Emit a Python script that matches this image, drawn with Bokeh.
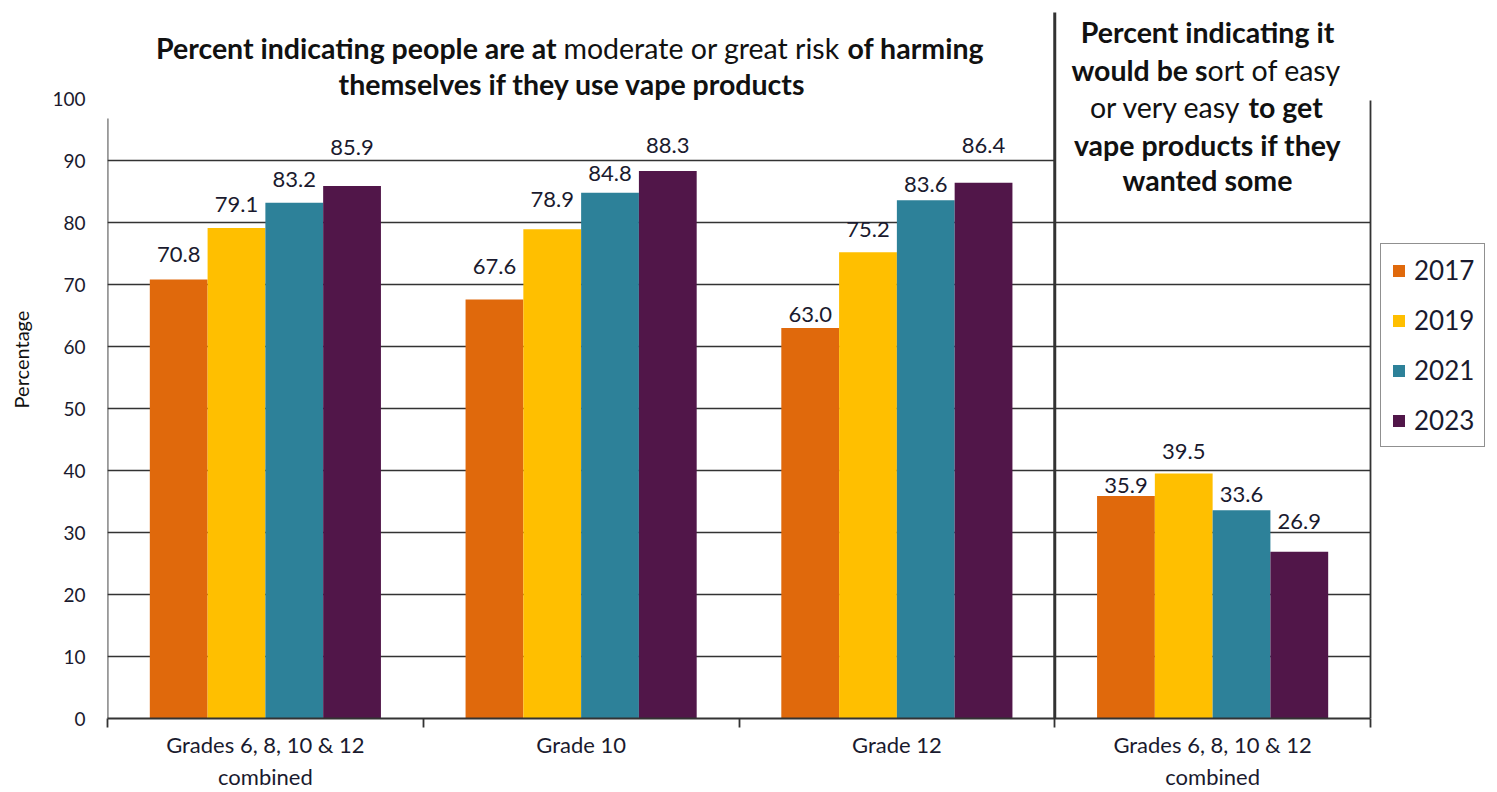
from bokeh.plotting import figure
from bokeh.models import (ColumnDataSource, FixedTicker, Label, Legend, LegendItem, Range1d)
from bokeh.core.properties import value
from bokeh.embed import file_html
from bokeh.resources import INLINE

# ---------------- data ----------------
categories = ["Grades 6, 8, 10 & 12\ncombined", "Grade 10", "Grade 12",
              "Grades 6, 8, 10 & 12\ncombined"]
years = ["2017", "2019", "2021", "2023"]
v2017 = [70.8, 67.6, 63.0, 35.9]
v2019 = [79.1, 78.9, 75.2, 39.5]
v2021 = [83.2, 84.8, 83.6, 33.6]
v2023 = [85.9, 88.3, 86.4, 26.9]
y_ticks = [0, 10, 20, 30, 40, 50, 60, 70, 80, 90, 100]

# ---------------- style ----------------
colors = ["#E0690C", "#FFBF00", "#2D8199", "#511649"]
label_lift = [[19, 27, 7, 4], [18, 24, 17, 16], [17, 13, 10, 10], [32, 20, 31, 24]]
BASELINE_FIX = 6
FONT = "Lato"
INK = "#1a1a2e"
LINE = "#333333"

W, H = 1497, 792
LEFT, BOTTOM = 107, 718
PX_X, PX_Y = 315.75, 6.2
x_end = (W - LEFT) / PX_X
y_end = BOTTOM / PX_Y


def px2x(px):
    return (px - LEFT) / PX_X


def px2y(py):
    return (BOTTOM - py) / PX_Y


p = figure(width=W, height=H, x_range=Range1d(0, x_end), y_range=Range1d(0, y_end),
           output_backend="svg", toolbar_location=None,
           min_border_left=LEFT, min_border_right=0, min_border_top=0,
           min_border_bottom=H - BOTTOM)
p.outline_line_color = None
p.grid.visible = False
p.background_fill_color = "white"

# gridlines (partial, as in the original)
gx0, gx1, gy = [], [], []
for t in y_ticks[1:-1]:
    gx0.append(0); gx1.append(3); gy.append(t)
    if t <= 80:
        gx0.append(3); gx1.append(4); gy.append(t)
p.segment(x0=gx0, y0=gy, x1=gx1, y1=gy, line_color=LINE, line_width=1.6)

# bars
series = [v2017, v2019, v2021, v2023]
bw = 0.183
renderers = []
for j, vals in enumerate(series):
    xs = [i + 0.5 + (j - 1.5) * bw for i in range(len(categories))]
    src = ColumnDataSource(dict(x=xs, top=vals,
                                txt=[f"{v:.1f}" for v in vals],
                                off=[-(d + BASELINE_FIX) for d in label_lift[j]]))
    r = p.vbar(x="x", top="top", width=bw, bottom=0, source=src,
               fill_color=colors[j], line_color=None)
    renderers.append(r)
    p.text(x="x", y="top", text="txt", source=src, y_offset="off",
           text_align="center", text_baseline="alphabetic",
           text_font=value(FONT), text_font_size="22px", text_color=INK)

# frame lines
p.segment(x0=[0], y0=[0], x1=[0], y1=[px2y(118)], line_color=LINE, line_width=1.8)
p.segment(x0=[4], y0=[0], x1=[4], y1=[px2y(100)], line_color=LINE, line_width=1.8)
p.segment(x0=[3], y0=[0], x1=[3], y1=[px2y(12)], line_color=LINE, line_width=3)

# x axis
xa = p.xaxis[0]
xa.ticker = FixedTicker(ticks=[0.5, 1.5, 2.5, 3.5], minor_ticks=[0, 1, 2, 3, 4])
xa.major_label_overrides = {0.5: categories[0], 1.5: categories[1],
                            2.5: categories[2], 3.5: categories[3]}
xa.bounds = (0, 4)
xa.axis_line_color = LINE
xa.axis_line_width = 1.8
xa.major_tick_line_color = None
xa.major_tick_out = 0
xa.major_tick_in = 0
xa.minor_tick_line_color = LINE
xa.minor_tick_line_width = 1.8
xa.minor_tick_out = 9
xa.minor_tick_in = 0
xa.major_label_standoff = 3
xa.major_label_text_font = FONT
xa.major_label_text_font_size = "22px"
xa.major_label_text_color = INK

# y axis
ya = p.yaxis[0]
ya.ticker = FixedTicker(ticks=y_ticks)
ya.axis_line_color = None
ya.major_tick_line_color = None
ya.major_tick_out = 0
ya.minor_tick_line_color = None
ya.major_label_standoff = 22
ya.major_label_text_font = FONT
ya.major_label_text_font_size = "19px"
ya.major_label_text_color = INK
ya.axis_label = "Percentage"
ya.axis_label_text_font = FONT
ya.axis_label_text_font_size = "20px"
ya.axis_label_text_font_style = "normal"
ya.axis_label_text_color = "#111111"
ya.axis_label_standoff = 16

# legend
legend = Legend(items=[LegendItem(label=y, renderers=[r]) for y, r in zip(years, renderers)],
                location=(1273, 271), orientation="vertical",
                border_line_color="#222222", border_line_width=1.5,
                background_fill_color="white", background_fill_alpha=1,
                glyph_width=15, glyph_height=15, label_standoff=8,
                label_text_font=FONT, label_text_font_size="26px",
                label_text_color=INK, spacing=18, padding=10, margin=0)
p.add_layout(legend)


# titles
TSIZE = "28.5px"


def lab(txt, px, py, bold=True, align="center"):
    p.add_layout(Label(x=px2x(px), y=px2y(py), text=txt, text_align=align,
                       text_baseline="middle", text_font=FONT, text_font_size=TSIZE,
                       text_font_style="bold" if bold else "normal",
                       text_color="#111111"))


lab("Percent indicating people are at", 556, 47, True, "right")
lab("moderate or great risk", 563, 47, False, "left")
lab("of harming", 847, 47, True, "left")
lab("themselves if they use vape products", 572, 83, True, "center")

lab("Percent indicating it", 1207, 31, True, "center")
lab("would be s", 1207, 69, True, "right")
lab("ort of easy", 1207, 69, False, "left")
lab("or very easy", 1241, 106, False, "right")
lab("to get", 1248, 106, True, "left")
lab("vape products if they", 1207, 144, True, "center")
lab("wanted some", 1207, 179, True, "center")

open("out.html", "w").write(file_html(p, INLINE))
